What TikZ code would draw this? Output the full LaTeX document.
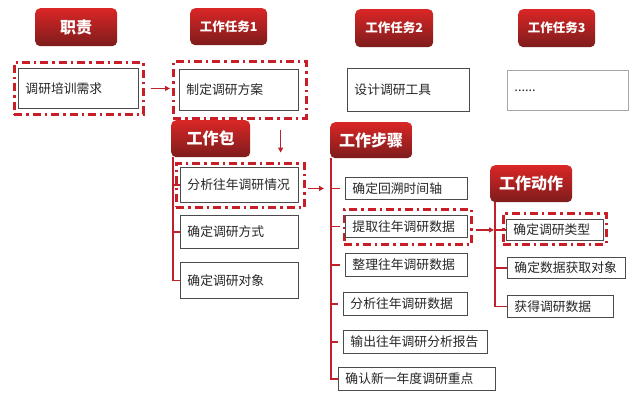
\documentclass[tikz,border=0pt]{standalone}
\usepackage{fontspec}
\setmainfont{Noto Sans CJK SC}
\usetikzlibrary{arrows.meta,calc}
\definecolor{hdrTop}{RGB}{218,38,38}
\definecolor{hdrBot}{RGB}{125,28,28}
\definecolor{lnred}{RGB}{192,32,42}
\definecolor{frred}{RGB}{200,30,40}
\definecolor{boxgray}{RGB}{75,75,75}
\tikzset{
  hdr/.style={rounded corners=5pt, top color=hdrTop, bottom color=hdrBot, draw=none,
    text=white, font=\bfseries, inner sep=0pt, anchor=north west},
  bx/.style={draw=boxgray, line width=0.9pt, fill=white, inner xsep=7pt, inner ysep=0pt,
    align=left, anchor=north west, text=black!85, font=\fontsize{12.8}{14}\selectfont},
  frm/.style={draw=frred, line width=2.6pt, dash pattern=on 8pt off 4pt on 2.4pt off 4pt,
    inner sep=0pt, anchor=north west},
  tree/.style={draw=lnred, line width=1.5pt},
  arr/.style={draw=lnred, line width=1.5pt, -{Triangle[length=5pt,width=5pt]}}
}
\begin{document}
\begin{tikzpicture}[x=1pt,y=-1pt]
\useasboundingbox (0,0) rectangle (640,401);
\fill[white] (0,0) rectangle (640,401);
% headers
\node[hdr, minimum width=82, minimum height=38, font=\bfseries\fontsize{16}{18}\selectfont] (h0) at (35,8) {职责};
\node[hdr, minimum width=77, minimum height=37, font=\bfseries\fontsize{12.5}{14}\selectfont] (h1) at (190,8) {工作任务1};
\node[hdr, minimum width=78, minimum height=38, font=\bfseries\fontsize{12.5}{14}\selectfont] (h2) at (355,9) {工作任务2};
\node[hdr, minimum width=77, minimum height=38, font=\bfseries\fontsize{12.5}{14}\selectfont] (h3) at (518,9) {工作任务3};
\node[hdr, minimum width=79, minimum height=37, font=\bfseries\fontsize{16}{18}\selectfont] (hp) at (171,120) {工作包};
\node[hdr, minimum width=82, minimum height=36, font=\bfseries\fontsize{16}{18}\selectfont] (hs) at (330,122) {工作步骤};
\node[hdr, minimum width=82, minimum height=37, font=\bfseries\fontsize{16}{18}\selectfont] (ha) at (490,165) {工作动作};
% frames
\node[frm, minimum width=129, minimum height=52] (f0) at (13,61) {};
\node[frm, minimum width=133, minimum height=57] (f1) at (172,60) {};
\node[frm, minimum width=128, minimum height=44] (fp) at (175,162) {};
\node[frm, minimum width=127, minimum height=35] (fs) at (343,208) {};
\node[frm, minimum width=103, minimum height=31] (fa) at (502,212) {};
% row 1 boxes
\node[bx, text width=106, minimum height=40] (d1) at (18,68) {调研培训需求};
\node[bx, text width=105, minimum height=41] (t1) at (179,69) {制定调研方案};
\node[bx, text width=108, minimum height=43] (t2) at (347,68) {设计调研工具};
\node[bx, text width=107, minimum height=40, draw=gray!70] (t3) at (507,70) {......};
% package boxes
\node[bx, text width=104, minimum height=35] (p1) at (180,167) {分析往年调研情况};
\node[bx, text width=104, minimum height=33] (p2) at (180,215) {确定调研方式};
\node[bx, text width=104, minimum height=36] (p3) at (180,262) {确定调研对象};
% step boxes
\node[bx, text width=108, minimum height=22] (s1) at (345,177) {确定回溯时间轴};
\node[bx, text width=108, minimum height=22] (s2) at (345,215) {提取往年调研数据};
\node[bx, text width=108, minimum height=23] (s3) at (345,253) {整理往年调研数据};
\node[bx, text width=110, minimum height=23] (s4) at (343,292) {分析往年调研数据};
\node[bx, text width=129.5, minimum height=23] (s5) at (343,330) {输出往年调研分析报告};
\node[bx, text width=143, minimum height=23] (s6) at (338,367) {确认新一年度调研重点};
% action boxes
\node[bx, text width=83, minimum height=21] (a1) at (506,219) {确定调研类型};
\node[bx, text width=104, minimum height=21] (a2) at (507,257) {确定数据获取对象};
\node[bx, text width=92, minimum height=22] (a3) at (507,295) {获得调研数据};
% tree: package
\coordinate (pk) at ([xshift=2pt]hp.south west);
\draw[tree] (pk) |- (p3.west);
\draw[tree] (pk |- p1.west) -- (p1.west);
\draw[tree] (pk |- p2.west) -- (p2.west);
% tree: steps
\coordinate (st) at ([xshift=1pt]hs.south west);
\draw[tree] (st) |- (s6.west);
\foreach \n in {s1,s2,s3,s4,s5} \draw[tree] (st |- \n.west) -- ([xshift=-5pt]\n.west);
% tree: actions
\coordinate (ac) at ([xshift=5pt]ha.south west);
\draw[tree] (ac) |- (a3.west);
\draw[tree] (ac |- a2.west) -- (a2.west);
% arrows
\draw[arr] ([xshift=6pt]f0.east |- d1.west) -- ([xshift=-2pt]f1.west |- d1.west);
\coordinate (dn1) at ($(f1.south east)+(-27,10)$);
\coordinate (dn2) at ($(f1.south east)+(-27,33)$);
\draw[arr] (dn1) -- (dn2);
\draw[arr] ([xshift=2pt]fp.east |- s1.west) -- ([xshift=-7pt]st |- s1.west);
\draw[arr] ([xshift=3pt]fs.east |- a1.west) -- ([xshift=-1pt]ac |- a1.west);
\draw[tree] (ac |- a1.west) -- (a1.west);
\end{tikzpicture}
\end{document}
